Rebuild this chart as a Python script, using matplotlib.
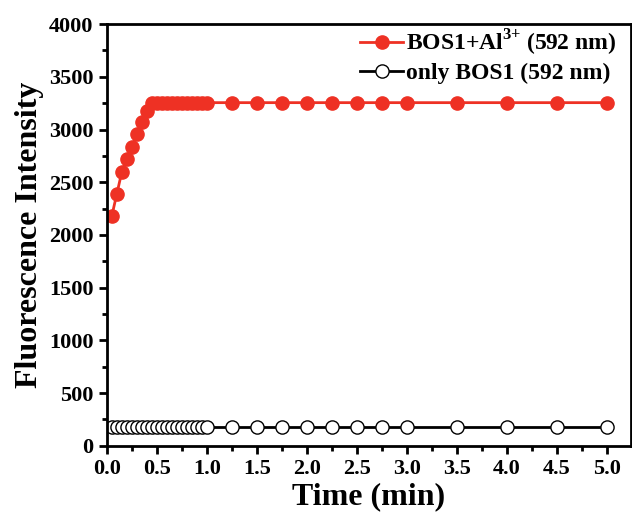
import matplotlib
matplotlib.use('Agg')
import matplotlib.pyplot as plt
from matplotlib.ticker import MultipleLocator, FormatStrFormatter

plt.rcParams['font.family'] = ['Liberation Serif', 'DejaVu Serif']
plt.rcParams['font.weight'] = 'bold'
plt.rcParams['mathtext.fontset'] = 'custom'
plt.rcParams['mathtext.rm'] = 'Liberation Serif:bold'
plt.rcParams['mathtext.bf'] = 'Liberation Serif:bold'

time_min = [0.05, 0.1, 0.15, 0.2, 0.25, 0.3, 0.35, 0.4, 0.45, 0.5,
            0.55, 0.6, 0.65, 0.7, 0.75, 0.8, 0.85, 0.9, 0.95, 1.0,
            1.25, 1.5, 1.75, 2.0, 2.25, 2.5, 2.75, 3.0, 3.5, 4.0, 4.5, 5.0]
bos1_al = [2180, 2389, 2597, 2720, 2830, 2957, 3075, 3180] + [3255] * 24
only_bos1 = [175] * 32

red = '#ee3124'

fig = plt.figure(figsize=(6.32, 5.13), dpi=100)
ax = fig.add_axes([0.169, 0.131, 0.829, 0.822])

ax.plot(time_min, bos1_al, '-o', color=red, lw=2, ms=9.5,
        label=r'BOS1+Al$^{\mathbf{3{+}}}$ (592 nm)')
ax.plot(time_min, only_bos1, '-o', color='black', lw=2, ms=9.5,
        mfc='white', mec='black', mew=1.0, label='only BOS1 (592 nm)')

ax.set_xlim(0, 5.24)
ax.set_ylim(0, 4000)
ax.xaxis.set_major_locator(MultipleLocator(0.5))
ax.xaxis.set_minor_locator(MultipleLocator(0.25))
ax.yaxis.set_major_locator(MultipleLocator(500))
ax.yaxis.set_minor_locator(MultipleLocator(250))
ax.tick_params(which='major', direction='out', length=6, width=2, labelsize=16)
ax.tick_params(which='minor', direction='out', length=3.5, width=2)
ax.xaxis.set_major_formatter(FormatStrFormatter('%.1f'))
for s in ax.spines.values():
    s.set_linewidth(2)

ax.set_xlabel('Time (min)', fontsize=23, fontweight='bold', labelpad=2)
ax.set_ylabel('Fluorescence Intensity', fontsize=23, fontweight='bold', labelpad=4)

ax.legend(loc='upper right', bbox_to_anchor=(1.0, 1.025), frameon=False,
          fontsize=17, handlelength=1.8, handletextpad=0.15,
          borderaxespad=0.2, labelspacing=0.2)

fig.savefig('out.png', dpi=100)
